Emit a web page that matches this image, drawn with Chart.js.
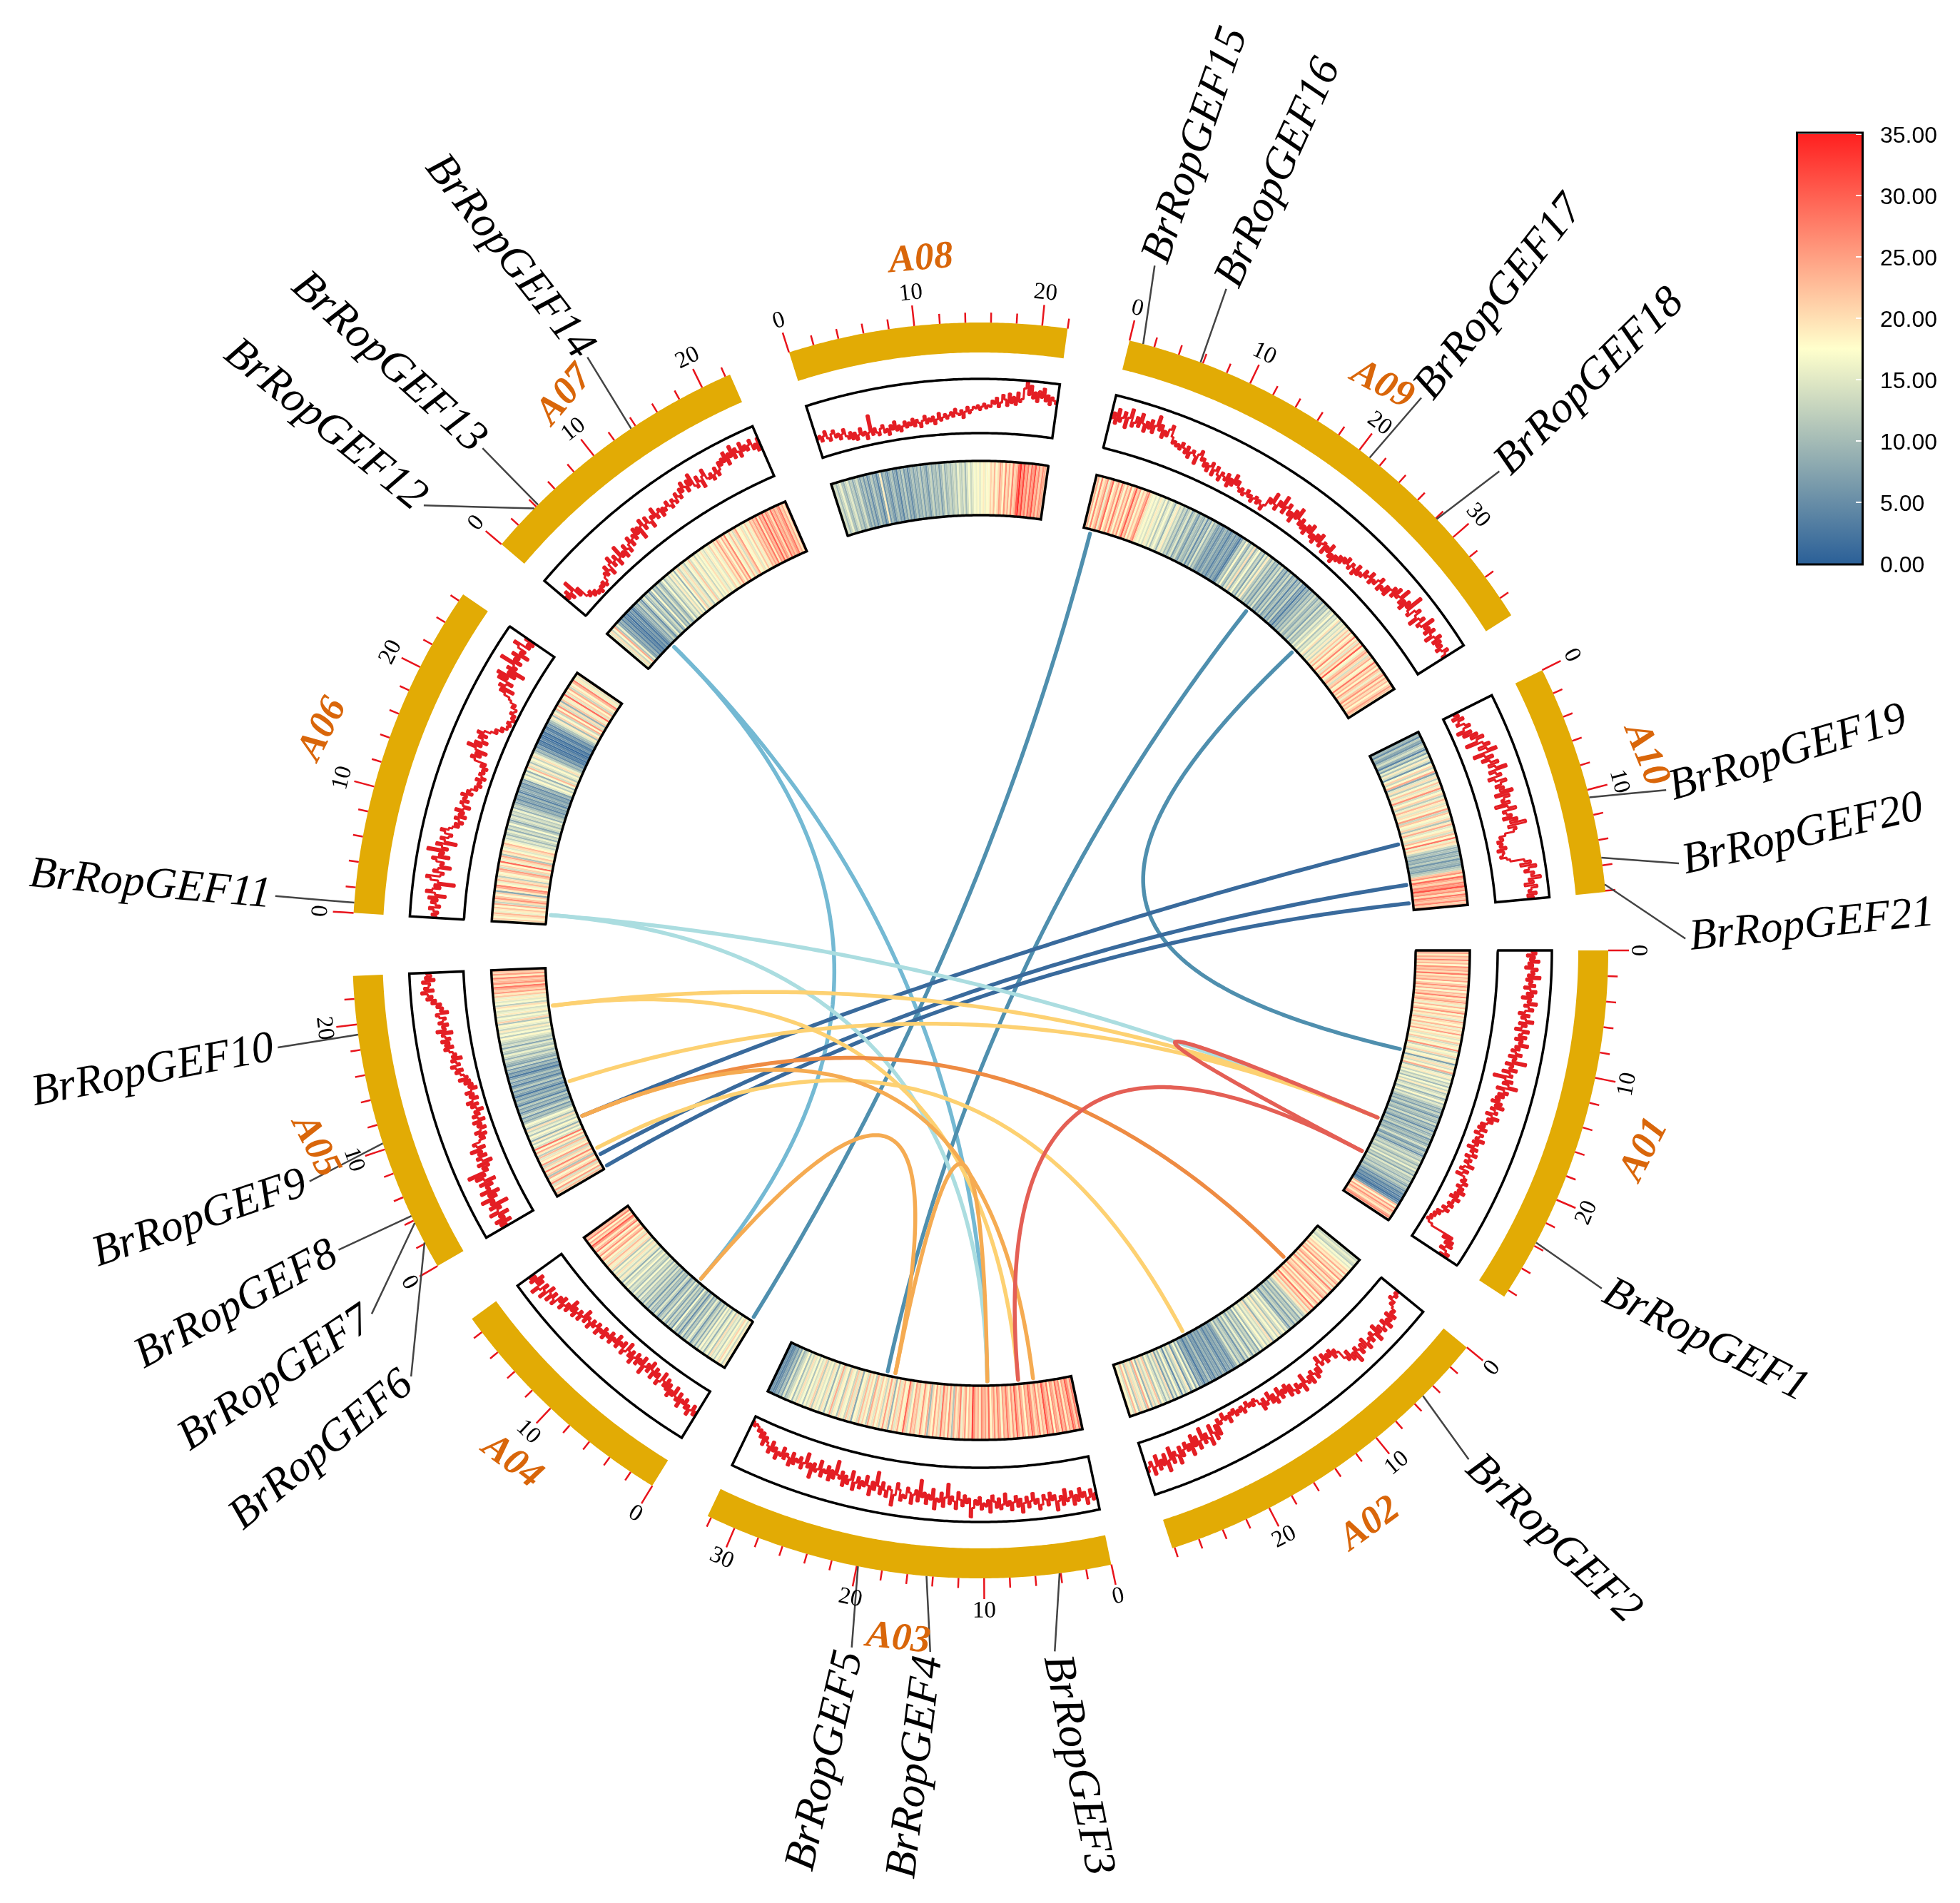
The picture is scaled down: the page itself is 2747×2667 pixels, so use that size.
<!DOCTYPE html>
<html>
<head>
<meta charset="utf-8">
<title>BrRopGEF circos</title>
<script src="https://cdn.jsdelivr.net/npm/chart.js@4"></script>
<style>
  body { margin: 0; background: #fff; }
  #myChart { position: absolute; left: 0; top: 0; }
  #colorBar { position: absolute; left: 2517px; top: 165px; }
</style>
</head>
<body>
<canvas id="myChart" width="2747" height="2667"></canvas>
<canvas id="colorBar" width="230" height="645"></canvas>
<script>
// chromosomes, lengths in Mb
const chromosomes = ['A01','A02','A03','A04','A05','A06','A07','A08','A09','A10'];
const chrLengths = [28.6,28.2,32.3,19.3,23.8,26.6,22.4,22,37.6,18.1];

// gene density per chromosome (equal bins along each chromosome)
const densA01 = [22,25,19,24,21,27,20,23,18,26,22,24,20,28,19,23,21,25,18,22,26,20,24,17,23,21,27,19,22,25,20,16,23,18,21,26,17,22,19,15,24,20,18,23,16,21,19,25,17,20,15,18,22,14,19,17,26,13,18,16,21,12,17,19,7,15,20,14,18,24,11,16,19,13,17,12,15,10,17,13,19,11,14,16,9,13,18,11,15,12,8,11,7,13,9,6,12,10,8,14,7,11,9,5,12,8,10,13,6,9,11,7,10,14,8,6,12,9,5,11,13,10,15,12,9,14,11,16,10,13,8,15,11,12,9,13,10,7,12,9,5,8,4,6,3,5,2,4,7,23,17,25,20,26,22,19,24,27,21];
const densA02 = [15,13,16,14,12,17,15,18,21,19,24,17,23,20,26,18,22,25,19,23,16,27,21,18,24,20,22,26,17,23,19,25,21,18,28,20,24,16,22,19,13,10,15,8,12,9,14,7,11,13,6,10,16,12,18,14,11,19,13,17,15,9,20,14,16,12,18,15,10,17,8,13,10,15,7,12,16,9,14,6,11,13,8,15,10,7,5,9,6,8,4,7,10,5,8,6,9,4,7,5,11,6,8,3,7,9,5,15,8,17,12,6,19,14,10,16,5,13,18,9,15,7,20,12,16,10,14,18,11,22,16,13,20,9,17,24,12,19,15,21,11,18,23,14,17,20];
const densA03 = [24,28,21,26,30,22,25,19,27,23,29,20,24,26,18,28,22,25,31,21,24,19,27,23,20,26,29,22,25,18,23,27,20,24,30,21,26,19,23,28,22,25,17,24,27,20,26,22,18,29,21,25,23,27,19,24,21,26,32,20,23,18,25,21,16,27,22,19,24,11,20,26,17,23,21,28,15,22,19,25,18,21,10,24,17,20,26,19,16,23,21,25,18,14,22,29,19,17,24,20,15,23,18,9,21,16,25,19,13,20,17,22,15,19,24,12,18,21,16,23,14,19,17,8,20,15,22,13,18,16,21,11,17,19,14,24,15,18,9,16,20,13,17,15,19,12,21,16,14,18,11,17,15,20,13,16,10,18,14,12,9,15,7,11,6,8,5,4,6,3];
const densA04 = [16,19,13,17,21,15,18,12,16,14,20,11,17,15,9,16,13,18,10,15,8,14,11,6,13,16,9,12,7,15,10,5,13,8,11,17,6,12,9,14,7,11,16,8,13,10,5,12,15,7,11,9,14,6,12,10,15,8,13,11,16,9,14,12,17,10,13,15,11,18,14,12,17,9,15,19,13,16,20,14,18,11,21,16,19,23,15,20,17,25,22,18,26,21,17,28,23,19,25,30,20,24,18,27,22,26];
const densA05 = [19,23,15,25,18,21,14,26,20,17,24,11,22,19,27,16,21,13,25,18,20,15,23,12,19,24,17,28,14,17,12,19,9,15,18,11,16,13,20,10,15,17,12,8,11,6,13,9,5,10,7,12,4,8,11,6,9,3,7,10,5,12,8,4,9,6,11,7,3,8,5,10,6,13,7,9,11,14,9,13,16,10,12,15,8,14,11,13,15,18,12,17,14,19,13,16,18,11,21,15,17,13,19,16,14,18,20,12,17,15,19,16,22,19,25,21,24,28,20,26,23,22,27,19,25,21,24];
const densA06 = [18,21,17,20,23,16,19,22,18,24,13,20,26,22,17,21,8,19,24,27,18,16,23,20,12,19,17,22,25,14,21,18,29,16,20,24,11,19,22,17,15,20,23,18,16,12,15,10,13,16,9,14,11,17,12,8,13,15,10,14,12,16,9,13,11,7,9,5,8,6,10,4,7,9,6,8,5,10,7,15,18,12,16,9,17,23,14,19,11,15,18,13,20,16,12,8,10,5,7,3,4,2,5,3,1,4,2,6,4,3,7,5,9,11,15,19,10,21,17,13,24,18,26,14,20,9,22,16,19,29,15,21,18,24,13,20,17,23,27,16,19,15,22];
const densA07 = [18,15,20,13,17,24,11,16,8,6,9,4,7,3,5,2,6,4,7,3,5,8,10,7,13,9,5,12,16,8,11,14,6,10,18,9,12,7,15,11,8,13,17,10,14,16,12,19,14,18,9,17,21,13,16,20,15,11,18,16,22,14,17,19,13,18,15,17,20,16,14,19,17,15,21,18,16,22,19,25,21,17,24,20,27,18,16,23,19,14,21,25,18,17,20,15,18,22,16,19,24,21,25,22,28,19,26,23,30,21,27,24,20,29,23,26,22,25,28,21,24,19,27];
const densA08 = [12,14,10,13,16,11,9,13,15,10,12,8,11,14,9,7,11,6,10,5,8,12,7,9,4,8,19,6,10,7,5,9,11,6,8,4,10,7,12,6,9,5,8,11,7,10,8,12,7,11,9,6,10,13,8,11,9,12,7,10,14,9,11,13,10,12,14,11,16,13,12,15,10,14,17,13,15,17,16,18,15,17,19,16,18,17,21,19,23,17,20,25,22,18,26,20,24,19,27,21,23,30,34,26,32,24,28,22,29,25,31,23,27,21,26,24,22];
const densA09 = [20,24,17,27,19,22,26,16,23,29,18,21,25,19,28,22,17,24,20,26,18,23,30,21,25,17,22,19,24,27,20,16,18,15,17,14,19,16,13,18,11,15,17,14,9,16,19,13,15,10,13,8,12,15,7,11,14,9,6,12,10,8,13,5,11,7,15,9,12,8,6,9,5,7,10,6,8,4,7,9,5,8,6,3,7,13,10,18,11,8,15,12,20,9,14,17,10,13,7,16,11,19,12,9,14,8,11,6,13,9,15,7,10,5,12,8,14,6,9,11,4,10,7,13,5,8,3,9,6,11,7,12,9,14,10,8,13,11,7,15,9,12,10,16,12,14,18,11,15,13,17,20,12,16,14,19,13,19,22,16,24,18,20,27,17,21,15,23,19,30,18,16,22,25,20,14,21,24,17,19,28,20,23,18,25,21,16,22,26,19,24,20,23,18,21,25,22,19];
const densA10 = [7,10,5,12,8,6,11,14,9,4,13,7,16,11,19,14,6,17,21,13,18,24,8,15,20,12,17,22,15,19,26,14,18,21,12,16,23,19,15,20,17,25,13,22,18,16,21,11,19,24,15,17,20,14,23,18,28,16,21,19,13,9,11,7,10,8,12,6,10,9,7,11,13,22,26,19,29,24,21,27,25,31,23,26,20,28,24,22,27,21,25];
const densities = [densA01,densA02,densA03,densA04,densA05,densA06,densA07,densA08,densA09,densA10];

// genes: chromosome index + position in Mb
const geneNames = [];
for (let i = 1; i <= 21; i++) geneNames.push('BrRopGEF' + i);
const geneChr = [0,1,2,2,2,4,4,4,4,4,5,6,6,6,8,8,8,8,9,9,9];
const genePos = [23.7,5.1,4.1,14.5,19.9,2.1,3.8,4.4,10.5,19.2,0.8,3.8,4.2,13.6,1.1,5.8,21,28.1,10.6,15.4,17.5];
// where each label sits (degrees clockwise from east), how far out, and which way it runs
const geneLabelAngle = [28.3,45.8,83.2,94.5,100.8,142.8,148.7,154.5,161,171.7,184.5,218.7,224.8,235.8,285,291,308.5,317,346.3,352,358.3];
const geneLabelDist = [1154,1151,1150,1148,1156,1159,1156,1155,1157,1172,1167,1177,1169,1175,1168,1167,1169,1168,1165,1164,1166];
const geneLabelDir = [26.8,43.5,78.7,97,102.9,140.4,145.9,151.5,161,169.3,185,219,222.3,232,289,294.4,308,315.4,343.3,347,354.2];
const chrLabelAngle = [16.7,55.8,96.8,132.5,163.6,198.6,233.2,265.1,305.4,343.6];
const chrLabelRot = [-63,-36,6,37,63,-63,-50,-5,28,68];

// links: chromosome A, Mb A, chromosome B, Mb B, colour name, bend
const linkChrA = [6,6,8,8,8,9,9,9,5,5,4,4,4,4,4,4,3,2,0,0];
const linkPosA = [3.8,3.8,0.85,20.8,27.8,10.5,15.2,17.3,1.1,1.1,19.5,19.5,10.7,2.5,6.5,6.5,7.6,20,19.5,23.7];
const linkChrB = [3,2,3,2,0,4,4,4,0,2,0,2,0,1,1,2,2,2,0,2];
const linkPosB = [7.6,9.5,0.2,20.9,11.3,6.5,1.7,0.2,19.5,9.5,19.5,6,19.5,19.5,5.2,4.3,20,9.5,23.7,6];
const linkKind = ['sky','sky','steel','steel','steel','navy','navy','navy','pale','pale','sun','sun','sun','sun','amber','tan','tan','tan','red','red'];
const linkBend = [1,1,1,1,1.2,1,1,1,1,1,1,1,1,1,1,1,1,1,1,1];
const linkColors = {sky:'#74B9D3',steel:'#4F8FAE',navy:'#396A9C',pale:'#ABDDE0',sun:'#FDD172',amber:'#EE8B43',tan:'#F5AB52',red:'#E45F55'};

// colour bar
const barTicks = [0,5,10,15,20,25,30,35];
const barColors = ['#2B6098','#FFFFCC','#FF2020'];

const W = 2747, H = 2667, CX = 1374, CY = 1332;
const DEG_PER_MB = 1.17, GAP = 5.75;
const R = {bandOut:880, bandIn:838, lineOut:801, lineIn:725, heatOut:686, heatIn:610, link:604};

const starts = [];
let a0 = 0;
chrLengths.forEach(l => { starts.push(a0); a0 += l * DEG_PER_MB + GAP; });

function ang(chr, mb) { return starts[chr] + mb * DEG_PER_MB; }
function polar(deg, r) {
    const t = deg * Math.PI / 180;
    return {x: CX + r * Math.cos(t), y: CY + r * Math.sin(t)};
}
function hex(c) { return [1,3,5].map(i => parseInt(c.substr(i,2),16)); }
function heatColor(v) {
    const f = v / 35 * 2;
    const i = f >= 1 ? 1 : 0;
    const t = f - i, a = hex(barColors[i]), b = hex(barColors[i+1]);
    return 'rgb(' + a.map((p,k) => Math.round(p + (b[k]-p)*t)).join(',') + ')';
}
function arc(chr, r, mbFrom, mbTo) {
    const pts = [];
    const n = Math.ceil((mbTo - mbFrom) * DEG_PER_MB * 2);
    for (let i = 0; i <= n; i++) pts.push(polar(ang(chr, mbFrom + (mbTo - mbFrom) * i / n), r));
    return pts;
}
function upright(deg) {
    let d = ((deg % 360) + 360) % 360;
    if (d > 90 && d < 270) d -= 180;
    return d;
}

const measure = document.createElement('canvas').getContext('2d');
const GENE_FONT = 'italic 62px "Liberation Serif"';
measure.font = GENE_FONT;

const datasets = [];
function addLine(data, color, width, extra) {
    // small tension: with 0 the library merges points sharing an x pixel, which breaks near-vertical arcs
    datasets.push(Object.assign({data: data, showLine: true, borderColor: color, borderWidth: width, pointRadius: 0, borderCapStyle: 'butt', fill: false, tension: 0.0001}, extra || {}));
}

// heat track
chromosomes.forEach((c, i) => {
    const vals = densities[i], n = vals.length, step = chrLengths[i] / n, pts = [];
    for (let k = 0; k <= n; k++) pts.push(polar(ang(i, k * step), (R.heatOut + R.heatIn) / 2));
    addLine(pts, '#ccc', R.heatOut - R.heatIn, {segment: {borderColor: s => heatColor(vals[s.p0DataIndex])}});
});

// density line track
chromosomes.forEach((c, i) => {
    const vals = densities[i], step = chrLengths[i] / vals.length, pts = [];
    vals.forEach((v, k) => {
        const r = R.lineIn + (R.lineOut - R.lineIn) * v / 35;
        pts.push(polar(ang(i, k * step), r));
        pts.push(polar(ang(i, (k + 1) * step), r));
    });
    addLine(pts, '#E41E24', 3, {borderJoinStyle: 'bevel'});
});

// track frames + chromosome bands
chromosomes.forEach((c, i) => {
    [[R.lineIn, R.lineOut],[R.heatIn, R.heatOut]].forEach(p => {
        const outer = arc(i, p[1], 0, chrLengths[i]);
        const inner = arc(i, p[0], 0, chrLengths[i]).reverse();
        addLine(outer.concat(inner, [outer[0], outer[1]]), '#000', 3.5, {borderJoinStyle: 'miter'});
    });
    addLine(arc(i, (R.bandOut + R.bandIn) / 2, 0, chrLengths[i]), '#E2AB05', R.bandOut - R.bandIn);
});

// ticks, every 2 Mb, longer every 10
const tickPts = [];
chromosomes.forEach((c, i) => {
    for (let mb = 0; mb <= chrLengths[i]; mb += 2) {
        const d = ang(i, mb);
        tickPts.push(polar(d, R.bandOut), polar(d, R.bandOut + (mb % 10 === 0 ? 29 : 14)), {x: NaN, y: NaN});
    }
});
addLine(tickPts, '#E8141C', 2.5);

// gene leader lines
const leaderPts = [];
geneNames.forEach((g, i) => {
    const half = measure.measureText(g).width / 2 + 6;
    const c = polar(geneLabelAngle[i], geneLabelDist[i]);
    const dr = geneLabelDir[i] * Math.PI / 180;
    leaderPts.push(polar(ang(geneChr[i], genePos[i]), R.bandOut));
    leaderPts.push({x: c.x - half * Math.cos(dr), y: c.y - half * Math.sin(dr)});
    leaderPts.push({x: NaN, y: NaN});
});
addLine(leaderPts, '#444', 2.5);

// links, curves pulled towards the centre
linkKind.forEach((kind, i) => {
    const p0 = polar(ang(linkChrA[i], linkPosA[i]), R.link);
    const p2 = polar(ang(linkChrB[i], linkPosB[i]), R.link);
    const w = linkBend[i], pts = [];
    for (let k = 0; k <= 80; k++) {
        const t = k / 80, u = 1 - t, d = u*u + 2*u*t*w + t*t;
        pts.push({x: (u*u*p0.x + 2*u*t*w*CX + t*t*p2.x) / d, y: (u*u*p0.y + 2*u*t*w*CY + t*t*p2.y) / d});
    }
    addLine(pts, linkColors[kind], 5.5, {borderCapStyle: 'round'});
});

const textPlugin = {
    id: 'circosText',
    afterDatasetsDraw(chart) {
        const c = chart.ctx, xs = chart.scales.x, ys = chart.scales.y;
        function put(txt, p, rot) {
            c.save();
            c.translate(xs.getPixelForValue(p.x), ys.getPixelForValue(p.y));
            c.rotate(rot * Math.PI / 180);
            c.fillText(txt, 0, 0);
            c.restore();
        }
        c.save();
        c.textAlign = 'center';
        c.textBaseline = 'middle';
        c.fillStyle = '#000';
        c.font = '33px "Liberation Serif"';
        chromosomes.forEach((n, i) => {
            for (let mb = 0; mb <= chrLengths[i]; mb += 10) {
                const d = ang(i, mb);
                put(String(mb), polar(d, 926), upright(d - 90));
            }
        });
        c.fillStyle = '#D9660A';
        c.font = 'italic bold 54px "Liberation Serif"';
        chromosomes.forEach((n, i) => {
            put(n, polar(chrLabelAngle[i], 972), chrLabelRot[i]);
        });
        c.fillStyle = '#000';
        c.font = GENE_FONT;
        geneNames.forEach((g, i) => {
            put(g, polar(geneLabelAngle[i], geneLabelDist[i]), upright(geneLabelDir[i]));
        });
        c.restore();
    }
};

const myChart = new Chart(document.getElementById('myChart').getContext('2d'), {
    type: 'scatter',
    data: {datasets: datasets.reverse()},
    options: {
        responsive: false,
        animation: false,
        events: [],
        layout: {padding: 0},
        plugins: {legend: {display: false}, tooltip: {enabled: false}},
        scales: {
            x: {type: 'linear', min: 0, max: W, display: false},
            y: {type: 'linear', min: 0, max: H, reverse: true, display: false}
        }
    },
    plugins: [textPlugin]
});

// colour scale
const barFrame = {
    id: 'barFrame',
    afterDatasetsDraw(chart) {
        const c = chart.ctx, a = chart.chartArea, y = chart.scales.y;
        c.save();
        c.strokeStyle = '#fff';
        c.lineWidth = 2;
        barTicks.slice(1).forEach(v => {
            c.beginPath();
            c.moveTo(a.right - 11, y.getPixelForValue(v));
            c.lineTo(a.right - 1, y.getPixelForValue(v));
            c.stroke();
        });
        c.strokeStyle = '#000';
        c.lineWidth = 3;
        c.strokeRect(a.left + 1.5, a.top - 2, a.right - a.left - 3, a.bottom - a.top + 3);
        c.restore();
    }
};

new Chart(document.getElementById('colorBar').getContext('2d'), {
    type: 'bar',
    data: {
        labels: ['density'],
        datasets: [{
            data: [35],
            barPercentage: 1,
            categoryPercentage: 1,
            backgroundColor: ctx => {
                const area = ctx.chart.chartArea;
                if (!area) return barColors[0];
                const g = ctx.chart.ctx.createLinearGradient(0, area.bottom, 0, area.top);
                barColors.forEach((col, i) => g.addColorStop(i / (barColors.length - 1), col));
                return g;
            }
        }]
    },
    options: {
        responsive: false,
        animation: false,
        events: [],
        layout: {padding: {top: 23, bottom: 20}},
        plugins: {legend: {display: false}, tooltip: {enabled: false}},
        scales: {
            x: {display: false},
            y: {
                position: 'right',
                min: 0,
                max: 35,
                afterFit: s => { s.width = 135; s.paddingTop = 0; s.paddingBottom = 0; },
                grid: {display: false},
                border: {display: false},
                afterBuildTicks: s => { s.ticks = barTicks.map(v => ({value: v})); },
                ticks: {
                    padding: 15,
                    labelOffset: 3,
                    color: '#000',
                    font: {family: '"Liberation Sans"', size: 32},
                    callback: v => v.toFixed(2)
                }
            }
        }
    },
    plugins: [barFrame]
});
</script>
</body>
</html>
